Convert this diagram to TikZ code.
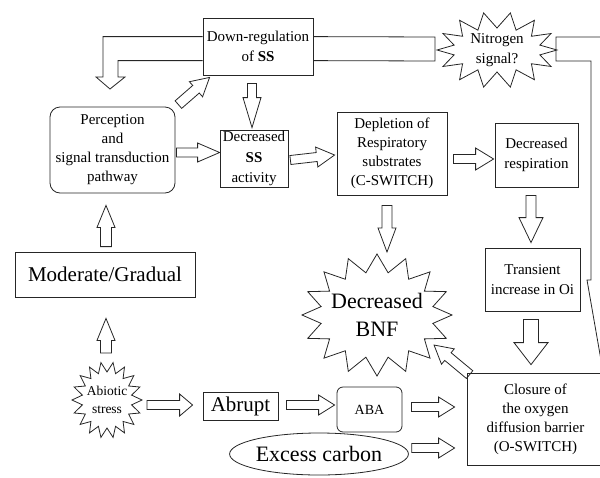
\documentclass[tikz,border=0pt]{standalone}
\usepackage{fontspec}
\setmainfont{Liberation Serif}
\usetikzlibrary{shapes.geometric,calc}
\newcommand{\fs}[2]{\fontsize{#1}{#2}\selectfont}
\newcommand{\barrow}[5]{%
  \draw[ln, line join=miter] let \p1=(#1), \p2=(#2),
    \n1={atan2(\y2-\y1,\x2-\x1)}, \n2={veclen(\x2-\x1,\y2-\y1)} in
    {[shift={(\p1)}, rotate=\n1]
     (0pt,-#3pt) -- ({\n2-#5pt},-#3pt) -- ({\n2-#5pt},-#4pt) -- (\n2,0pt)
     -- ({\n2-#5pt},#4pt) -- ({\n2-#5pt},#3pt) -- (0pt,#3pt) -- cycle};}
% star outline: centre, points, last index (2n-1), rx, ry, depth
\newcommand{\starline}[6]{%
  \draw[ln, line join=miter, shift={(#1)}] plot[variable=\t, samples at={0,...,#3}]
    ({cos(\t*180/#2)*(#4-#6*mod(\t,2))}, {sin(\t*180/#2)*(#5-#6*mod(\t,2))}) -- cycle;}
\tikzset{
  ln/.style={line width=0.8pt, draw=black!85},
  box/.style={ln, rectangle, inner sep=0pt, align=center, font=\fs{15}{19}},
  rbox/.style={box, rounded corners=10pt},
  burst/.style={inner sep=0pt, align=center},
}
\begin{document}
\begin{tikzpicture}[x=1pt, y=-1pt]
\useasboundingbox (0,0) rectangle (600,477);
\clip (0,0) rectangle (600,477);
% nodes
\node[box, minimum width=110pt, minimum height=57pt, font=\fs{15}{20}] (dr) at (258,46.5) {Down-regulation\\of \textbf{SS}};
\node[burst, font=\fs{15}{20}] (ns) at (497,50) {Nitrogen\\signal?};
\node[rbox, minimum width=125pt, minimum height=86pt] (perc) at (112.5,150) {Perception\\and\\signal transduction\\pathway};
\node[box, minimum width=68pt, minimum height=57pt, font=\fs{15}{20.5}] (dss) at (254,158.5) {Decreased\\\textbf{SS}\\activity};
\node[box, minimum width=110pt, minimum height=83pt] (dep) at (392,153.5) {Depletion of\\Respiratory\\substrates\\(C-SWITCH)};
\node[box, minimum width=83pt, minimum height=64pt, font=\fs{15}{20}] (dres) at (536.5,155) {Decreased\\respiration};
\node[box, minimum width=95pt, minimum height=63pt, font=\fs{15}{20}] (tr) at (532.5,279.5) {Transient\\increase in Oi};
\node[box, minimum width=137pt, minimum height=92pt] (cl) at (535.5,419) {Closure of\\the oxygen\\diffusion barrier\\(O-SWITCH)};
\node[burst, font=\fs{22}{28}] (bnf) at (377,315) {Decreased\\BNF};
\node[box, minimum width=180pt, minimum height=45pt, font=\fs{21}{24}] (mg) at (105,274.5) {Moderate/Gradual};
\node[burst, font=\fs{13.5}{18}] (ab) at (107,400) {Abiotic\\stress};
\node[box, minimum width=75pt, minimum height=28pt, font=\fs{21}{24}] (abr) at (240.5,406) {Abrupt};
\node[box, rounded corners=6pt, minimum width=65pt, minimum height=45pt, font=\fs{14}{16}] (aba) at (369.5,409.5) {ABA};
\node[ln, ellipse, inner sep=0pt, minimum width=178pt, minimum height=42pt, font=\fs{22}{24}] (ec) at (319,454) {Excess carbon};
% star outlines
\starline{ns.center}{14}{27}{60}{38}{16}
\starline{bnf.center}{16}{31}{75}{61}{18}
\starline{ab.center}{18}{35}{35}{38}{10}
% pipes
\draw[ln] ($(dr.north west)+(0,19)$) -| (103,77) -- (96,77) -- (110,89) -- (125,77) -- (118,77) |- ($(dr.north west)+(0,43)$);
\draw[ln] ($(dr.north east)+(0,19)$) -- ($(ns.center)+(-62,-13)$) -- ($(ns.center)+(-62,11)$) -- ($(dr.north east)+(0,43)$);
\draw[ln] ($(ns.center)+(130,-13)$) -- ($(ns.center)+(59,-13)$) -- ($(ns.center)+(59,11)$) -| (591,280) -- (587,280) -- ($(cl.north)+(67.5,-1)$);
% block arrows
\barrow{$(perc.north east)+(3,-2)$}{$(dr.south west)+(7,2)$}{5}{10}{18}
\barrow{$(dr.south)+(-6,8)$}{$(dss.north)+(-2,-2)$}{4.5}{9}{30}
\barrow{$(perc.east)+(1,2.5)$}{$(dss.west)+(0,-6)$}{4.5}{9.5}{22}
\barrow{$(dss.east)+(2,1.5)$}{$(dep.west)+(-2,1.5)$}{4.5}{10}{18}
\barrow{$(dep.east)+(6,5.5)$}{$(dres.west)+(-1,4)$}{4.5}{11}{18}
\barrow{$(dres.south)+(-5.5,8)$}{$(tr.north)+(-1.5,-5)$}{5}{12}{25}
\barrow{$(tr.south)+(-1.5,8)$}{$(cl.north)+(-4.5,-8)$}{7.5}{17}{22}
\barrow{$(dep.south)+(-5,10)$}{$(bnf.center)+(10,-63)$}{5}{9}{24}
\barrow{$(cl.north west)+(3,2)$}{$(bnf.center)+(57,30)$}{5}{10}{18}
\barrow{$(mg.north)+(1,-5)$}{$(perc.south)+(-6.5,12)$}{5.5}{9}{22}
\barrow{$(ab.center)+(-1,-47)$}{$(mg.south)+(1,21)$}{5.5}{9}{22}
\barrow{$(ab.center)+(40,5)$}{$(abr.west)+(-10,-1)$}{4.5}{11}{13}
\barrow{$(abr.east)+(8,-1)$}{$(aba.west)+(-2,-4.5)$}{4.5}{10}{16}
\barrow{$(aba.east)+(9,-2.5)$}{$(cl.west)+(-12,-12)$}{4.5}{10}{16}
\barrow{$(ec.east)+(3,-6)$}{$(cl.west)+(-12,29)$}{4.5}{10}{16}
\end{tikzpicture}
\end{document}
